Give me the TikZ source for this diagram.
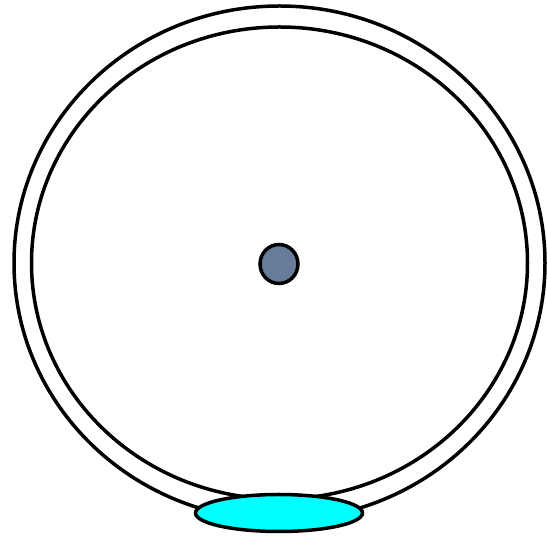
\documentclass[tikz,border=0pt]{standalone}
\usetikzlibrary{shapes.geometric}
\definecolor{dotfill}{RGB}{102,124,153}
\definecolor{padfill}{RGB}{0,255,255}
\begin{document}
\begin{tikzpicture}[x=1pt,y=1pt,
  shp/.style={draw=black,line width=3.5pt,ellipse,inner sep=0pt,outer sep=0pt}]
\useasboundingbox (0,0) rectangle (547,538);
\node[shp,minimum width=531pt,minimum height=514pt] (outer) at (279.5,275) {};
\node[shp,minimum width=496pt,minimum height=472pt] (inner) at (279.5,275) {};
\node[shp,fill=dotfill,minimum width=38pt,minimum height=39pt] (dot) at (279,274) {};
\node[shp,fill=padfill,minimum width=167pt,minimum height=37pt] (pad) at (279,25) {};
\end{tikzpicture}
\end{document}
